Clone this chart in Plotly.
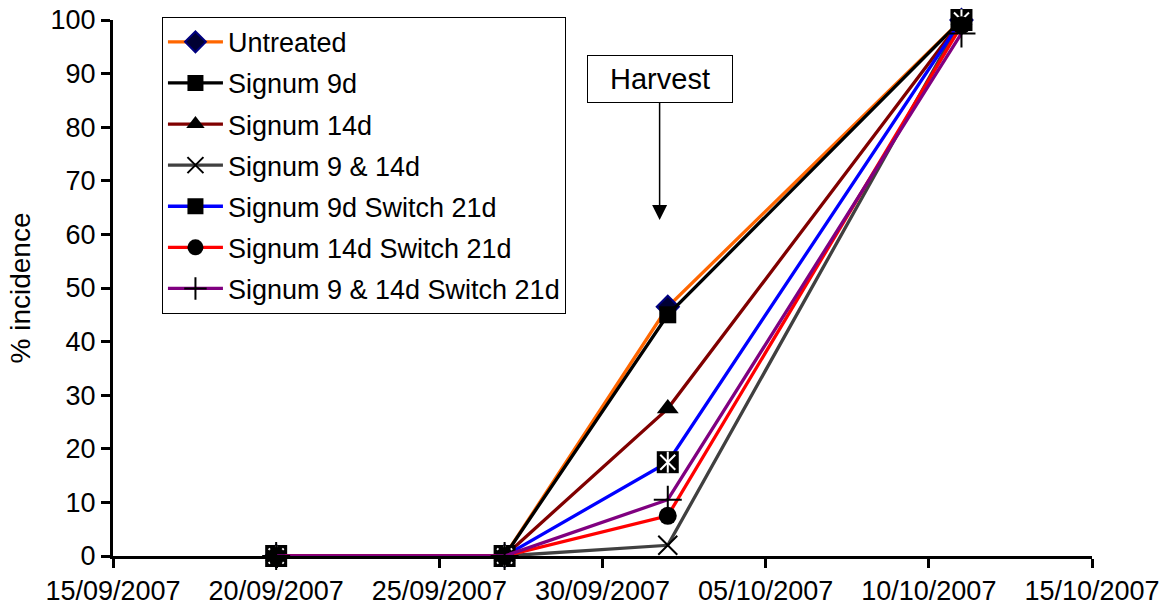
import plotly.graph_objects as go

dates = ["2007-09-20", "2007-09-27", "2007-10-02", "2007-10-11"]
untreated = [0, 0, 46.5, 100]
signum_9d = [0, 0, 45, 100]
signum_14d = [0, 0, 27.5, 100]
signum_9_14d = [0, 0, 2, 100]
switch_9d = [0, 0, 17.5, 100]
switch_14d = [0, 0, 7.5, 99]
switch_9_14d = [0, 0, 10.5, 97.5]

series_names = ["Untreated", "Signum 9d", "Signum 14d", "Signum 9 & 14d",
                "Signum 9d Switch 21d", "Signum 14d Switch 21d",
                "Signum 9 & 14d Switch 21d"]
harvest_date = "2007-10-01 18:00"

FONT = "Liberation Sans, Arial, sans-serif"

styles = [
    dict(color="#FF6600", symbol="diamond", size=17, mfill="#000033", mline="#000080", mlw=2),
    dict(color="#000000", symbol="square", size=17, mfill="#000000", mline="#000000", mlw=0),
    dict(color="#800000", symbol="triangle-up", size=19, mfill="#000000", mline="#000000", mlw=0),
    dict(color="#404040", symbol="x-thin", size=19, mfill="#000000", mline="#000000", mlw=2),
    dict(color="#0000FF", symbol="square", size=22, mfill="#000000", mline="#000000", mlw=0),
    dict(color="#FF0000", symbol="circle", size=18, mfill="#000000", mline="#000000", mlw=0),
    dict(color="#800080", symbol="cross-thin", size=20, mfill="#000000", mline="#000000", mlw=2),
]
values = [untreated, signum_9d, signum_14d, signum_9_14d, switch_9d, switch_14d, switch_9_14d]

fig = go.Figure()
for i, (name, vals, st) in enumerate(zip(series_names, values, styles)):
    fig.add_trace(go.Scatter(
        x=dates, y=vals, name=name, mode="lines+markers",
        legendgroup=f"g{i}", cliponaxis=False,
        line=dict(color=st["color"], width=3.3),
        marker=dict(symbol=st["symbol"], size=st["size"], color=st["mfill"],
                    line=dict(color=st["mline"], width=st["mlw"])),
    ))
    if name == "Signum 9d Switch 21d":
        for sym in ("x-thin-open", "line-ns-open"):
            fig.add_trace(go.Scatter(
                x=dates, y=vals, mode="markers", showlegend=False,
                legendgroup=f"g{i}", cliponaxis=False, hoverinfo="skip",
                marker=dict(symbol=sym, size=15, color="white",
                            line=dict(color="white", width=2)),
            ))

fig.add_annotation(
    x=harvest_date, y=62.7, ax=harvest_date, ay=89,
    xref="x", yref="y", axref="x", ayref="y",
    text="Harvest", showarrow=True, arrowhead=2, arrowsize=2.0, arrowwidth=1.5,
    arrowcolor="black", font=dict(family=FONT, size=29, color="black"),
    bordercolor="black", borderwidth=1, borderpad=1, bgcolor="white",
    width=142, height=44,
)

fig.update_layout(
    template="none",
    width=1163, height=612,
    margin=dict(l=113, r=71, t=20, b=56),
    paper_bgcolor="white", plot_bgcolor="white",
    font=dict(family=FONT, size=27, color="black"),
    showlegend=True,
    legend=dict(
        x=0.05, y=1.006, xanchor="left", yanchor="top",
        bordercolor="black", borderwidth=1, bgcolor="white",
        font=dict(family=FONT, size=27, color="black"),
        tracegroupgap=3, itemwidth=55, traceorder="grouped",
    ),
    xaxis=dict(
        type="date", range=["2007-09-15", "2007-10-15"], automargin=False,
        tick0="2007-09-15", dtick=5 * 86400000, tickformat="%d/%m/%Y",
        showline=True, linecolor="black", linewidth=3,
        ticks="outside", ticklen=9, tickwidth=3, tickcolor="black",
        showgrid=False, zeroline=False,
        tickfont=dict(family=FONT, size=27, color="black"),
    ),
    yaxis=dict(
        range=[0, 100], dtick=10, tick0=0, automargin=False,
        showline=True, linecolor="black", linewidth=3,
        ticks="outside", ticklen=9, tickwidth=3, tickcolor="black",
        showgrid=False, zeroline=False,
        tickfont=dict(family=FONT, size=27, color="black"),
        title=dict(text="% incidence", standoff=12,
                   font=dict(family=FONT, size=28, color="black")),
    ),
)

fig.write_html("out.html")
